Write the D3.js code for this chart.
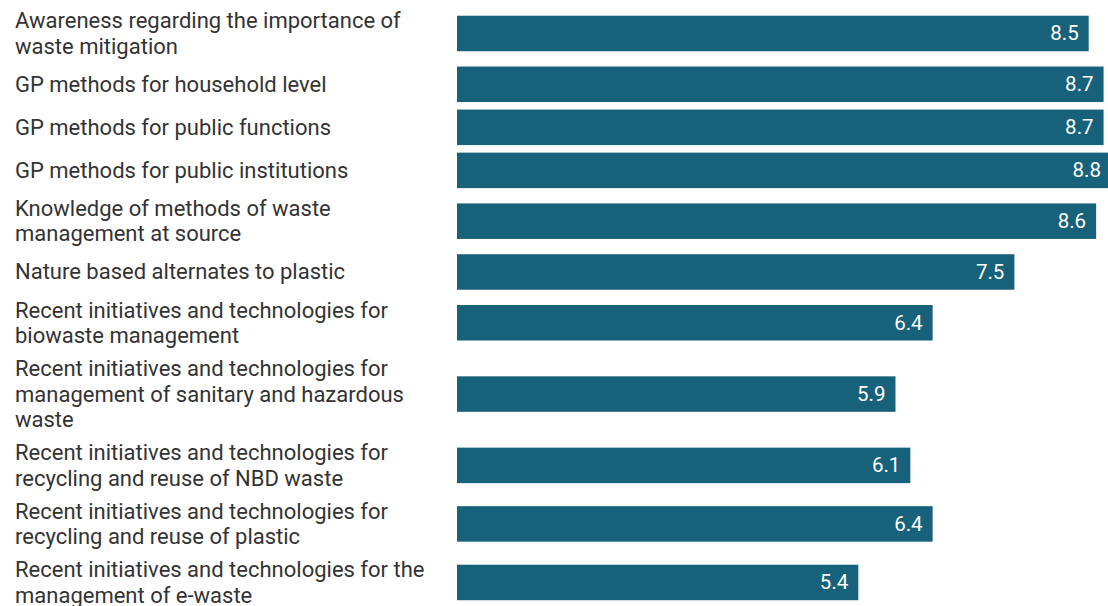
<!DOCTYPE html>
<html>
<head>
<meta charset="utf-8">
<script src="https://cdn.jsdelivr.net/npm/d3@7"></script>
<style>
  html, body { margin: 0; padding: 0; background: #fff; }
  svg { display: block; }
  text { font-family: Roboto, "Noto Sans", sans-serif; }
</style>
</head>
<body>
<svg id="chart" width="1108" height="606"></svg>
<script>
// Training topics and their mean scores
const categories = [
  "Awareness regarding the importance of waste mitigation",
  "GP methods for household level",
  "GP methods for public functions",
  "GP methods for public institutions",
  "Knowledge of methods of waste management at source",
  "Nature based alternates to plastic",
  "Recent initiatives and technologies for biowaste management",
  "Recent initiatives and technologies for management of sanitary and hazardous waste",
  "Recent initiatives and technologies for recycling and reuse of NBD waste",
  "Recent initiatives and technologies for recycling and reuse of plastic",
  "Recent initiatives and technologies for the management of e-waste"
];
const scores = [8.5, 8.7, 8.7, 8.8, 8.6, 7.5, 6.4, 5.9, 6.1, 6.4, 5.4];

const svg = d3.select("#chart");
const labelX = 15, labelWidth = 422, labelSize = 22;
const lineH = 25.5, barH = 35.5, gap = 7.55, topPad = 4.2;
const barColor = "#18617a";

const x = d3.scaleLinear().domain([0, 8.8]).range([457, 1111]);

// Wrap each label into lines that fit the label column
const measure = svg.append("text").attr("font-size", labelSize).attr("visibility", "hidden");
function wrap(str) {
  const words = str.split(" ");
  const lines = [];
  let cur = "";
  words.forEach(w => {
    const trial = cur ? cur + " " + w : w;
    measure.text(trial);
    if (cur && measure.node().getComputedTextLength() > labelWidth) {
      lines.push(cur);
      cur = w;
    } else {
      cur = trial;
    }
  });
  if (cur) lines.push(cur);
  return lines;
}
const rows = categories.map((c, i) => ({ name: c, value: scores[i], lines: wrap(c) }));
measure.remove();

// Row heights follow the taller of the bar and the wrapped label
let yCursor = topPad;
rows.forEach(r => {
  const h = Math.max(barH, r.lines.length * lineH) + gap;
  r.center = yCursor + h / 2;
  yCursor += h;
});
const yCenter = d3.scaleOrdinal().domain(categories).range(rows.map(r => r.center));

const row = svg.selectAll("g.row").data(rows).join("g").attr("class", "row");

row.append("text")
  .attr("font-size", labelSize)
  .attr("fill", "#333")
  .each(function(d) {
    const t = d3.select(this);
    const first = yCenter(d.name) - (d.lines.length - 1) * lineH / 2 + 7.5;
    d.lines.forEach((ln, k) => {
      t.append("tspan").attr("x", labelX).attr("y", first + k * lineH).text(ln);
    });
  });

row.append("rect")
  .attr("x", x(0))
  .attr("y", d => yCenter(d.name) - barH / 2)
  .attr("width", d => x(d.value) - x(0))
  .attr("height", barH)
  .attr("fill", barColor);

row.append("text")
  .attr("x", d => x(d.value) - 10)
  .attr("y", d => yCenter(d.name) + 7)
  .attr("text-anchor", "end")
  .attr("font-size", 20.5)
  .attr("fill", "#fff")
  .text(d => d3.format(".1f")(d.value));
</script>
</body>
</html>
